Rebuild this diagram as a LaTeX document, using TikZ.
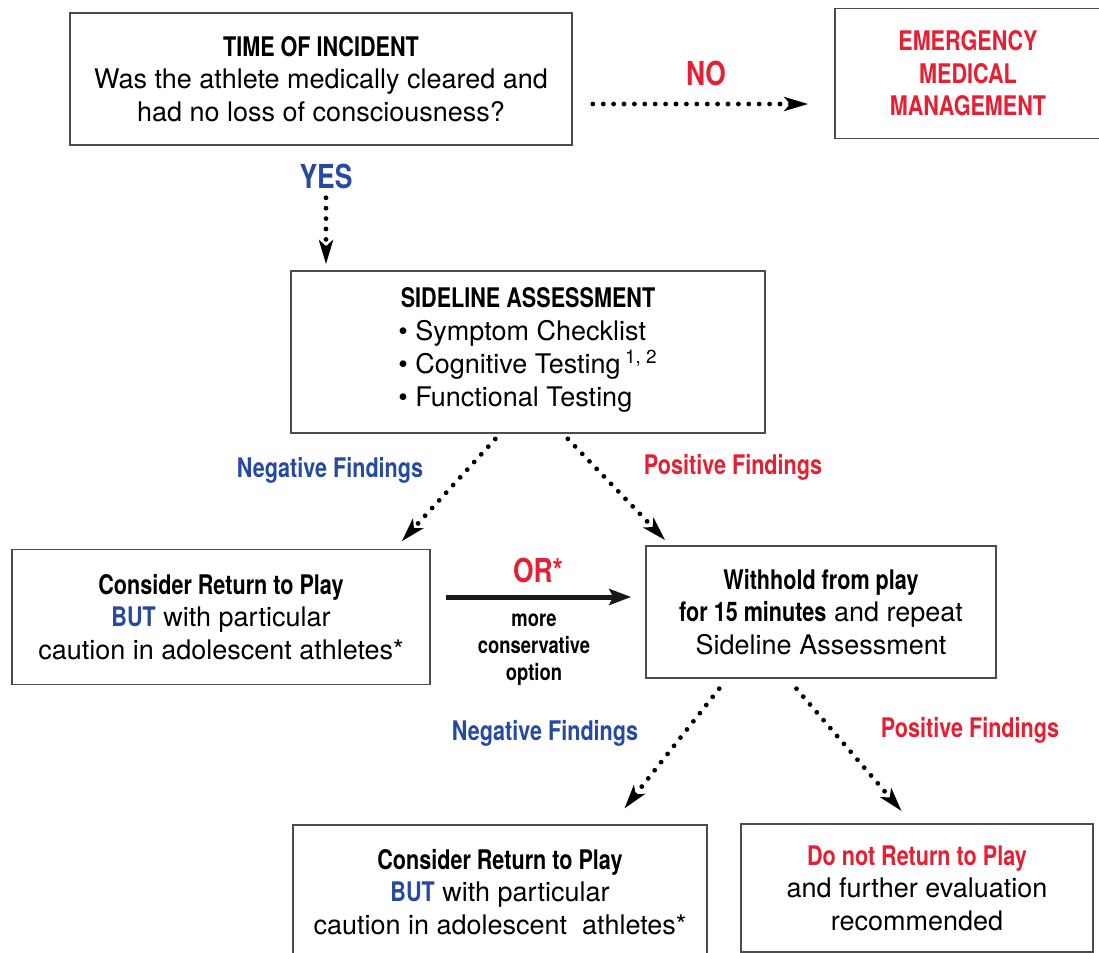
\documentclass[tikz,border=0pt]{standalone}
\usepackage{fontspec}
\setmainfont{TeX Gyre Heros}
\newfontfamily\cnd[FakeStretch=0.8]{TeX Gyre Heros}
\usepackage{xcolor}
\usepackage{tikz}
\usetikzlibrary{arrows.meta,calc}

\definecolor{alertred}{RGB}{228,32,52}
\definecolor{notblue}{RGB}{38,74,160}
\newcommand{\hd}[1]{{\cnd\bfseries #1}}

\begin{document}
\begin{tikzpicture}[x=0.5pt, y=-0.5pt,
    box/.style={draw=black!70, line width=0.8pt, fill=white, align=center,
        inner sep=0pt, font=\fontsize{13.5}{16.3}\selectfont},
    lab/.style={font=\cnd\bfseries\fontsize{13.5}{16}\selectfont},
    biglab/.style={font=\cnd\bfseries\fontsize{16.5}{18}\selectfont},
    dotarrow/.style={line width=2.4pt, line cap=round, dash pattern=on 0pt off 5.2pt,
        -{Stealth[length=12pt,width=7pt,inset=3pt]}},
    ]
    \clip (0,0) rectangle (1099,953);

    % Time of incident
    \node[box, minimum width=251pt, minimum height=66pt] (incident) at (321,79)
        {\hd{TIME OF INCIDENT}\\Was the athlete medically cleared and\\had no loss of consciousness?};

    % Emergency management
    \node[box, minimum width=133pt, minimum height=65pt, text=alertred] (emergency) at (968,73.5)
        {\hd{EMERGENCY}\\\hd{MEDICAL}\\\hd{MANAGEMENT}};

    % Sideline assessment
    \node[box, minimum width=237pt, minimum height=81pt] (sideline) at (528,352)
        {\hd{SIDELINE ASSESSMENT}\\
        \begin{tabular}[t]{@{}l@{}}
        \textbullet\ Symptom Checklist\\
        \textbullet\ Cognitive Testing\,\textsuperscript{1, 2}\\
        \textbullet\ Functional Testing
        \end{tabular}};

    % Return to play after first assessment
    \node[box, minimum width=209pt, minimum height=67.5pt] (returnA) at (221,617)
        {\hd{Consider Return to Play}\\\hd{\textcolor{notblue}{BUT}} with particular\\caution in adolescent athletes*};

    % Withhold and repeat
    \node[box, minimum width=175pt, minimum height=66pt] (withhold) at (821,612)
        {\hd{Withhold from play}\\\hd{for 15 minutes} and repeat\\Sideline Assessment};

    % Return to play after repeat
    \node[box, minimum width=207pt, minimum height=67pt] (returnB) at (500,892)
        {\hd{Consider Return to Play}\\\hd{\textcolor{notblue}{BUT}} with particular\\caution in adolescent\ \ athletes*};

    % Do not return
    \node[box, minimum width=176pt, minimum height=64pt] (noreturn) at (917,888)
        {\hd{\textcolor{alertred}{Do not Return to Play}}\\and further evaluation\\recommended};

    % Branch labels
    \node[biglab, text=alertred] (no) at (706,73) {NO};
    \node[biglab, text=notblue] (yes) at (326,176) {YES};
    \node[lab, text=notblue] (negA) at (330,470) {Negative Findings};
    \node[lab, text=alertred] (posA) at (733,467) {Positive Findings};
    \node[biglab, text=alertred] (or) at (538,570) {OR*};
    \node[align=center, font=\cnd\bfseries\fontsize{11.5}{13.5}\selectfont] (option) at (534,650)
        {more\\conservative\\option};
    \node[lab, text=notblue] (negB) at (545,733) {Negative Findings};
    \node[lab, text=alertred] (posB) at (970,730) {Positive Findings};

    % Connectors
    \draw[dotarrow, shorten <=10pt, shorten >=13pt]
        ([yshift=-12.5pt]incident.east) -- ([yshift=-12.5pt]incident.east -| emergency.west);
    \draw[dotarrow, shorten <=26pt, shorten >=3pt]
        ([xshift=2.5pt]incident.south) -- ([xshift=2.5pt]incident.south |- sideline.north);
    \draw[dotarrow, shorten <=3.5pt, shorten >=5pt]
        ([xshift=-14pt]sideline.south) -- ([xshift=87pt]returnA.north);
    \draw[dotarrow, shorten <=3.5pt, shorten >=3.5pt]
        ([xshift=17.5pt]sideline.south) -- ([xshift=-75.5pt]withhold.north);
    \draw[line width=2.5pt, draw=black!90, -{Stealth[length=11pt,width=8pt,inset=2pt]},
        shorten <=7.5pt, shorten >=7pt]
        ([yshift=10pt]returnA.east) -- ([yshift=10pt]returnA.east -| withhold.west);
    \draw[dotarrow, shorten <=6.3pt, shorten >=10pt]
        ([xshift=-47pt]withhold.south) -- ([xshift=56pt]returnB.north);
    \draw[dotarrow, shorten <=6.5pt, shorten >=8pt]
        ([xshift=-16.5pt]withhold.south) -- ([xshift=-2.5pt]noreturn.north);
\end{tikzpicture}
\end{document}
